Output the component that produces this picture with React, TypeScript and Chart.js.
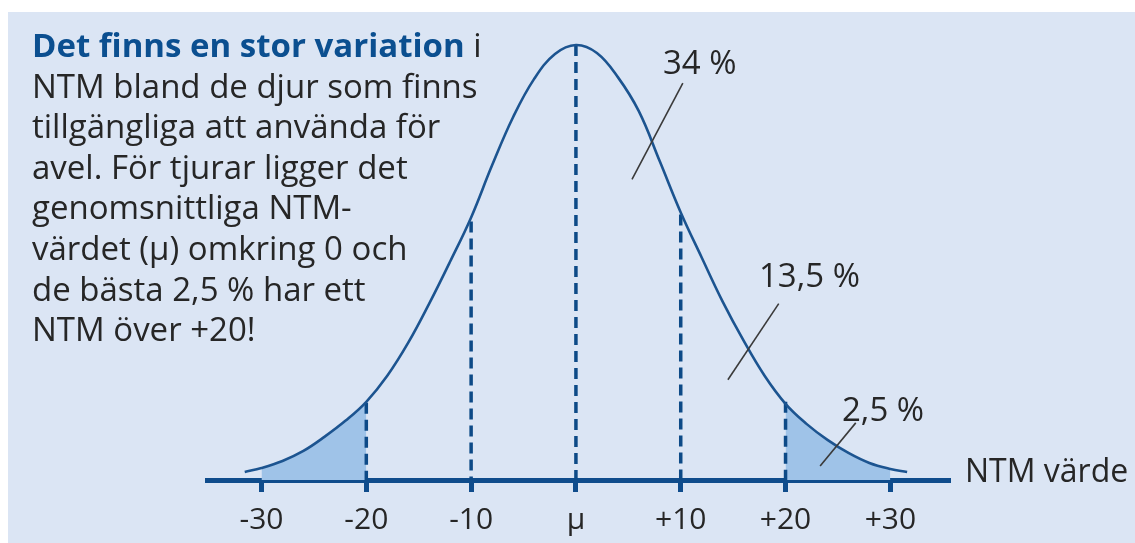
import React, { useEffect, useRef } from "react";
import { Chart, registerables } from "chart.js";

Chart.register(...registerables);

// ---- data ----
const CURVE_X = [-31.6, -30, -28, -26, -24, -22, -20, -18, -16, -14, -12, -10, -8, -6, -4, -2, 0, 2, 4, 6, 8, 10, 12, 14, 16, 18, 20, 22, 24, 26, 28, 30, 31.6];
const CURVE_Y = [8, 12, 19, 29, 43, 59, 78, 104, 137, 176, 218, 262, 314, 362, 400, 425, 434, 426, 402, 368, 318, 267, 222, 178, 139, 104, 76, 56, 40, 27, 17, 11, 8];
const TICKS = [-30, -20, -10, 0, 10, 20, 30];
const DASH_X = [-20, -10, 0, 10, 20];
const DASH_TOP = [77, 258, 434, 265, 78];
const TAIL_LEFT = [-30, -20];
const TAIL_RIGHT = [20, 30];
const PCT_LABELS = ["34 %", "13,5 %", "2,5 %"];
const AXIS_TITLE = "NTM värde";
const PARAGRAPH = [
  "NTM bland de djur som finns",
  "tillgängliga att använda för",
  "avel. För tjurar ligger det",
  "genomsnittliga NTM-",
  "värdet (μ) omkring 0 och",
  "de bästa 2,5 % har ett",
  "NTM över +20!",
];
const HEADLINE_BOLD = "Det finns en stor variation";
const HEADLINE_REST = " i";

const FONT = "'Open Sans', 'Noto Sans', sans-serif";

function pts(lo: number, hi: number) {
  const out: { x: number; y: number }[] = [];
  CURVE_X.forEach((x, i) => {
    if (x >= lo && x <= hi) out.push({ x, y: CURVE_Y[i] });
  });
  return out;
}

const leaderPlugin = {
  id: "leaders",
  afterDatasetsDraw(chart: any) {
    const { ctx, scales } = chart;
    const xs = scales.x;
    const ys = scales.y;
    const segs = [
      [10.2, 396, 5.35, 300],
      [19.35, 176, 14.5, 100],
      [26.7, 57, 23.3, 14],
    ];
    ctx.save();
    ctx.strokeStyle = "#3a3a3a";
    ctx.lineWidth = 1.6;
    segs.forEach((s) => {
      ctx.beginPath();
      ctx.moveTo(xs.getPixelForValue(s[0]), ys.getPixelForValue(s[1]));
      ctx.lineTo(xs.getPixelForValue(s[2]), ys.getPixelForValue(s[3]));
      ctx.stroke();
    });
    ctx.restore();
  },
};

export default function App() {
  const ref = useRef<HTMLCanvasElement | null>(null);

  useEffect(() => {
    if (!ref.current) return;
    const dashSets = DASH_X.map((x, i) => ({
      type: "line" as const,
      data: [
        { x, y: DASH_TOP[i] },
        { x, y: 0 },
      ],
      borderColor: "#0d4a87",
      borderWidth: 3.5,
      borderDash: [11, 6],
      borderCapStyle: "butt" as const,
      pointRadius: 0,
      fill: false,
    }));
    const chart = new Chart(ref.current, {
      type: "line",
      data: {
        datasets: [
          {
            data: CURVE_X.map((x, i) => ({ x, y: CURVE_Y[i] })),
            borderColor: "#1c5490",
            borderWidth: 2.6,
            pointRadius: 0,
            tension: 0.4,
            fill: false,
          },
          ...dashSets,
          {
            data: pts(TAIL_LEFT[0], TAIL_LEFT[1]),
            borderWidth: 0,
            borderColor: "rgba(0,0,0,0)",
            backgroundColor: "#9fc3e8",
            pointRadius: 0,
            tension: 0.4,
            fill: "origin",
          },
          {
            data: pts(TAIL_RIGHT[0], TAIL_RIGHT[1]),
            borderWidth: 0,
            borderColor: "rgba(0,0,0,0)",
            backgroundColor: "#9fc3e8",
            pointRadius: 0,
            tension: 0.4,
            fill: "origin",
          },
        ] as any,
      },
      options: {
        animation: false,
        responsive: false,
        events: [],
        layout: { padding: { left: 199, right: 187, top: 12, bottom: 6 } },
        plugins: { legend: { display: false }, tooltip: { enabled: false } },
        scales: {
          x: {
            type: "linear",
            min: -35.2,
            max: 35.5,
            afterBuildTicks: (s: any) => {
              s.ticks = TICKS.map((v) => ({ value: v }));
            },
            border: { display: true, width: 5, color: "#0f4c8c" },
            grid: {
              drawOnChartArea: false,
              drawTicks: true,
              tickLength: 12,
              lineWidth: 5,
              color: "#0f4c8c",
            },
            ticks: {
              autoSkip: false,
              maxRotation: 0,
              padding: 10,
              color: "#262626",
              font: { family: FONT, size: 30 },
              callback: (v: any) => (v === 0 ? "μ" : v > 0 ? "+" + v : String(v)),
            },
          },
          y: { type: "linear", display: false, min: 0, max: 455 },
        },
      },
      plugins: [leaderPlugin],
    });
    return () => chart.destroy();
  }, []);

  const txt: React.CSSProperties = {
    position: "absolute",
    fontFamily: FONT,
    color: "#262626",
    whiteSpace: "nowrap",
    lineHeight: 1,
  };

  return (
    <div
      style={{
        position: "fixed",
        left: 8,
        top: 12,
        width: 1127,
        height: 531,
        background: "#dbe5f4",
        overflow: "hidden",
      }}
    >
      <canvas ref={ref} width={1127} height={542} style={{ position: "absolute", left: 0, top: 0 }} />
      <div style={{ ...txt, left: 24, top: 13, fontSize: 33, lineHeight: "40.6px" }}>
        <div>
          <span style={{ fontWeight: 700, color: "#0b4f90" }}>{HEADLINE_BOLD}</span>
          {HEADLINE_REST}
        </div>
        {PARAGRAPH.map((l, i) => (
          <div key={i}>{l}</div>
        ))}
      </div>
      <div style={{ ...txt, left: 655, top: 33, fontSize: 33 }}>{PCT_LABELS[0]}</div>
      <div style={{ ...txt, left: 751, top: 246, fontSize: 33 }}>{PCT_LABELS[1]}</div>
      <div style={{ ...txt, left: 834, top: 380, fontSize: 33 }}>{PCT_LABELS[2]}</div>
      <div style={{ ...txt, left: 957, top: 442, fontSize: 32 }}>{AXIS_TITLE}</div>
    </div>
  );
}
